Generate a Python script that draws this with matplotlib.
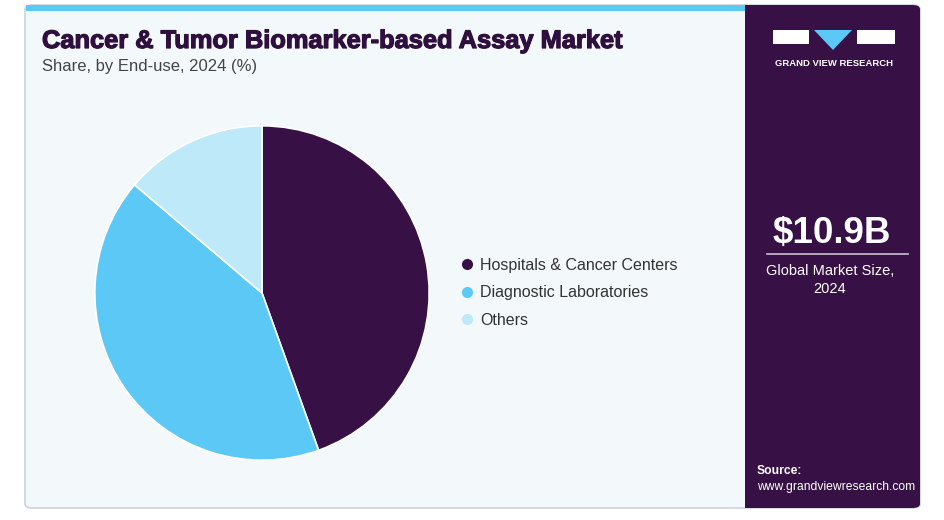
import matplotlib.pyplot as plt
import matplotlib.patheffects as pe
from matplotlib.patches import FancyBboxPatch, Rectangle, Polygon
from matplotlib.lines import Line2D

plt.rcParams['font.family'] = ['Liberation Sans', 'DejaVu Sans']

# data
segments = ['Hospitals & Cancer Centers', 'Diagnostic Laboratories', 'Others']
shares = [44.5, 41.7, 13.8]
colors = ['#371045', '#5bc8f5', '#bde9f9']
title = 'Cancer & Tumor Biomarker-based Assay Market'
subtitle = 'Share, by End-use, 2024 (%)'
market_size = '$10.9B'
market_label = 'Global Market Size,\n2024'

W, H = 945, 520
PURPLE = '#371045'


def fx(px):
    return px / W


def fy(py):
    # pixel from top -> figure fraction from bottom
    return 1 - py / H


fig = plt.figure(figsize=(9.45, 5.2), dpi=100)
fig.patch.set_facecolor('white')

# card backgrounds
card = FancyBboxPatch((fx(25), fy(508)), fx(895), 503 / H,
                      boxstyle='round,pad=0,rounding_size=0.008',
                      transform=fig.transFigure, facecolor='#f3f8fb',
                      edgecolor='#cfd3d6', linewidth=1.2, zorder=-3)
fig.patches.append(card)
right = FancyBboxPatch((fx(745), fy(508)), fx(175), 503 / H,
                       boxstyle='round,pad=0,rounding_size=0.008',
                       transform=fig.transFigure, facecolor=PURPLE,
                       edgecolor='none', zorder=-2)
fig.patches.append(right)
fig.patches.append(Rectangle((fx(745), fy(508)), fx(20), 503 / H,
                             transform=fig.transFigure, facecolor=PURPLE,
                             edgecolor='none', zorder=-2))
fig.patches.append(Rectangle((fx(26), fy(11)), fx(719), 6 / H,
                             transform=fig.transFigure, facecolor='#5bc8f5',
                             edgecolor='none', zorder=-1))

# titles
fig.text(fx(42), fy(41), title, fontsize=18.3, fontweight='bold',
         color='#2e0f3e', va='center', ha='left',
         path_effects=[pe.withStroke(linewidth=0.9, foreground='#2e0f3e')])
fig.text(fx(42), fy(66), subtitle, fontsize=12, color='#444444',
         va='center', ha='left')

# pie
cx, cy, r = 262, 293, 168
ax = fig.add_axes([fx(cx - r), fy(cy + r), fx(2 * r), 2 * r / H], zorder=2)
ax.pie(shares, colors=colors, startangle=90, counterclock=False,
       wedgeprops=dict(edgecolor='white', linewidth=1.2))
ax.set_xlim(-1.005, 1.005)
ax.set_ylim(-1.005, 1.005)
ax.set_aspect('equal')
ax.axis('off')

# legend
handles = [Line2D([0], [0], marker='o', linestyle='none', markersize=8,
                  markerfacecolor=c, markeredgecolor='none') for c in colors]
fig.legend(handles, segments, loc='center left',
           bbox_to_anchor=(fx(445), fy(293)), frameon=False, fontsize=11.5,
           handletextpad=0.3, labelspacing=0.78, handlelength=1.0,
           labelcolor='#333333')

# right panel texts
fig.text(fx(832), fy(233), market_size, fontsize=26.5, fontweight='bold',
         color='white', ha='center', va='center')
fig.add_artist(Line2D([fx(767), fx(908)], [fy(254), fy(254)],
                      color='#c9bfd0', linewidth=1.2))
fig.text(fx(830), fy(280), market_label, fontsize=10.5, color='white',
         ha='center', va='center', linespacing=1.3)
fig.text(fx(757), fy(471), 'Source:', fontsize=8.7, fontweight='bold',
         color='white', ha='left', va='center')
fig.text(fx(757), fy(487), 'www.grandviewresearch.com', fontsize=8.7,
         color='white', ha='left', va='center')

# logo
fig.patches.append(Rectangle((fx(773), fy(44)), fx(36), 14 / H,
                             transform=fig.transFigure, facecolor='white',
                             edgecolor='none', zorder=3))
fig.patches.append(Polygon([(fx(814), fy(30)), (fx(852), fy(30)),
                            (fx(833), fy(50))], closed=True,
                           transform=fig.transFigure, facecolor='#5bc8f5',
                           edgecolor='none', zorder=3))
fig.patches.append(Rectangle((fx(857), fy(44)), fx(38), 14 / H,
                             transform=fig.transFigure, facecolor='white',
                             edgecolor='none', zorder=3))
fig.text(fx(834), fy(63), 'GRAND VIEW RESEARCH', fontsize=6.8,
         fontweight='bold', color='white', ha='center', va='center')

fig.savefig('out.png', dpi=100, facecolor='white')
